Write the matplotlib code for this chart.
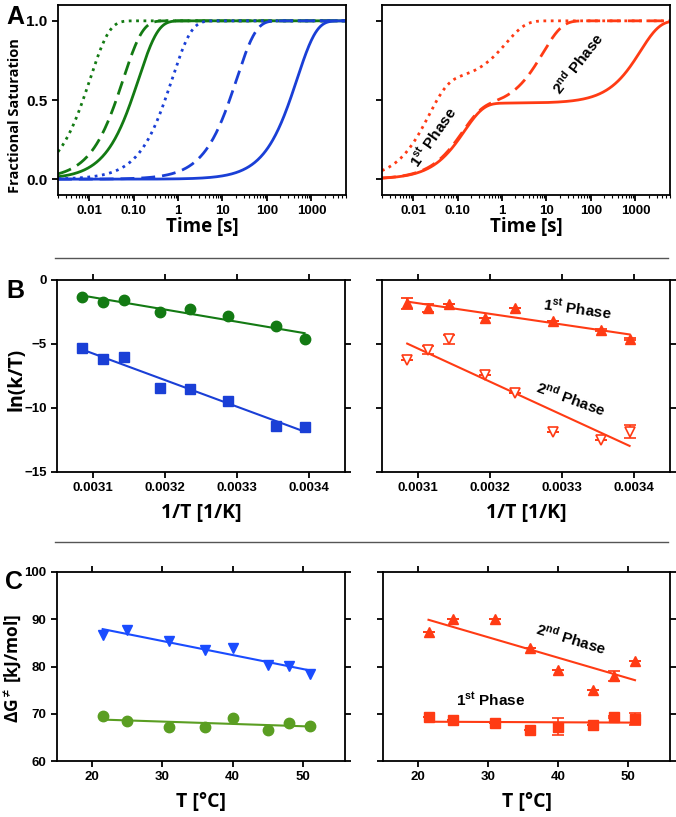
import numpy as np
import matplotlib.pyplot as plt
from matplotlib.lines import Line2D

plt.rcParams['font.family'] = ['Liberation Sans', 'DejaVu Sans']
plt.rcParams['font.weight'] = 'bold'
plt.rcParams['mathtext.fontset'] = 'custom'
plt.rcParams['mathtext.rm'] = 'Liberation Sans:bold'
plt.rcParams['mathtext.bf'] = 'Liberation Sans:bold'
plt.rcParams['mathtext.it'] = 'Liberation Sans:bold'

green = '#137a13'
blue = '#1a3fd6'
red = '#ff3b14'
green_c = '#5a9e22'
blue_c = '#1a4cff'

# ---- panel A: rate constants (1/s), order dotted, dashed, solid
rates_green = [95, 17, 7.7]
rates_blue = [1.36, 0.048, 0.0021]
# biphasic curves: amplitude of 1st phase, k1, k2
amp1_red = [0.62, 0.45, 0.48]
k1_red = [45, 8, 7]
k2_red = [0.8, 0.12, 7.7e-4]
styles = [':', (0, (5, 2.5)), '-']

# ---- panels B and C: temperatures in degC
temps = np.array([21.5, 25, 31, 36, 40, 45, 48, 51])

ln_kT_green = [-4.64, -3.59, -2.79, -2.27, -2.53, -1.56, -1.74, -1.30]
ln_kT_blue = [-11.46, -11.43, -9.43, -8.52, -8.46, -6.04, -6.20, -5.29]

ln_kT_1st = [-4.61, -3.91, -3.20, -2.21, -3.00, -1.90, -2.21, -1.82]
ln_kT_1st_err = [0.1, 0.1, 0, 0, 0, 0, 0.3, 0.45]
ln_kT_2nd = [-11.85, -12.5, -11.9, -8.85, -7.42, -4.64, -5.47, -6.25]
ln_kT_2nd_err = [0.5, 0, 0, 0, 0, 0.35, 0.3, 0]

dG_blue = [86.6, 87.7, 85.4, 83.5, 83.9, 80.4, 80.1, 78.5]
dG_green = [69.6, 68.5, 67.3, 67.3, 69.0, 66.6, 68.1, 67.5]
dG_2nd = [87.4, 90.0, 90.0, 83.9, 79.2, 75.1, 78.0, 81.1]
dG_2nd_err = [0, 0, 0, 0, 0, 0, 1.0, 0]
dG_1st = [69.3, 68.6, 68.1, 66.6, 67.3, 67.6, 69.3, 68.9]
dG_1st_err = [0, 0, 0, 0, 1.7, 0, 0.3, 1.2]

inv_T = 1.0 / (temps + 273.15)

fig = plt.figure(figsize=(6.76, 8.17), dpi=100)

W = 288 / 676
axA1 = fig.add_axes([58 / 676, 1 - 195 / 817, W, 190 / 817])
axA2 = fig.add_axes([382 / 676, 1 - 195 / 817, W, 190 / 817])
axB1 = fig.add_axes([57 / 676, 1 - 472 / 817, W, 192 / 817])
axB2 = fig.add_axes([382 / 676, 1 - 472 / 817, W, 192 / 817])
axC1 = fig.add_axes([57 / 676, 1 - 761 / 817, W, 189 / 817])
axC2 = fig.add_axes([383 / 676, 1 - 761 / 817, W - 1 / 676, 189 / 817])

tick_font = 9.5
sans2 = ['Open Sans', 'DejaVu Sans']
label_font = dict(family=sans2, fontweight='bold', fontsize=14)


def style_axis(ax, left_labels=True, mirror=True):
    for s in ax.spines.values():
        s.set_linewidth(1.3)
    ax.tick_params(which='major', direction='out', length=4, width=1.3, labelsize=tick_font)
    if mirror:
        ax.tick_params(top=True, right=True, which='major')
    if not left_labels:
        ax.tick_params(labelleft=False)
    for lab in ax.get_xticklabels() + ax.get_yticklabels():
        lab.set_fontweight('bold')


# ---- A
t = np.logspace(np.log10(0.002), np.log10(6000), 500)
for k, ls in zip(rates_green, styles):
    axA1.plot(t, 1 - np.exp(-k * t), color=green, lw=2, ls=ls)
for k, ls in zip(rates_blue, styles):
    axA1.plot(t, 1 - np.exp(-k * t), color=blue, lw=2, ls=ls)
for a, k1, k2, ls in zip(amp1_red, k1_red, k2_red, styles):
    y = a * (1 - np.exp(-k1 * t)) + (1 - a) * (1 - np.exp(-k2 * t))
    axA2.plot(t, y, color=red, lw=2, ls=ls)

for ax in [axA1, axA2]:
    ax.set_xscale('log')
    ax.set_xlim(0.002, 6000)
    ax.set_ylim(-0.1, 1.1)
    ax.set_xticks([0.01, 0.1, 1, 10, 100, 1000])
    ax.set_xticklabels(['0.01', '0.10', '1', '10', '100', '1000'])
    ax.set_yticks([0, 0.5, 1.0])
    ax.set_yticklabels(['0.0', '0.5', '1.0'])
    style_axis(ax, left_labels=(ax is axA1), mirror=False)
    ax.tick_params(which='minor', direction='out', length=2, width=0.8)
    ax.tick_params(axis='y', labelsize=11)
    ax.set_xlabel('Time [s]', labelpad=0, family=sans2, fontweight='bold', fontsize=13.5)
axA1.set_ylabel('Fractional Saturation', family=sans2, fontweight='bold', fontsize=10.5)
axA1.yaxis.set_label_coords(-0.125, 0.42)

axA2.text(0.028, 0.27, r'1$^{\mathbf{st}}$ Phase', rotation=55, fontsize=11,
          fontweight='bold', ha='center', va='center')
axA2.text(52, 0.73, r'2$^{\mathbf{nd}}$ Phase', rotation=52, fontsize=11,
          fontweight='bold', ha='center', va='center')


# ---- B
def fit_line(ax, x, y, color):
    p = np.polyfit(x, y, 1)
    xs = np.array([x.min(), x.max()])
    ax.plot(xs, np.polyval(p, xs), color=color, lw=1.5, zorder=1)


axB1.plot(inv_T, ln_kT_green, 'o', color=green, ms=7.5, zorder=3)
fit_line(axB1, inv_T, np.array(ln_kT_green), green)
axB1.plot(inv_T, ln_kT_blue, 's', color=blue, ms=7.5, zorder=3)
fit_line(axB1, inv_T, np.array(ln_kT_blue), blue)

axB2.errorbar(inv_T, ln_kT_1st, yerr=ln_kT_1st_err, fmt='^', color=red, ms=7.5,
              capsize=4, elinewidth=1.3, capthick=1.3, zorder=3)
fit_line(axB2, inv_T, np.array(ln_kT_1st), red)
axB2.errorbar(inv_T, ln_kT_2nd, yerr=ln_kT_2nd_err, fmt='v', color=red, mfc='white',
              mec=red, mew=1.2, ms=7, capsize=4, elinewidth=1.3, capthick=1.3, zorder=3)
fit_line(axB2, inv_T, np.array(ln_kT_2nd), red)

for ax in [axB1, axB2]:
    ax.set_xlim(0.00305, 0.00345)
    ax.set_ylim(-15, 0)
    ax.set_xticks([0.0031, 0.0032, 0.0033, 0.0034])
    ax.set_xticklabels(['0.0031', '0.0032', '0.0033', '0.0034'])
    ax.set_yticks([0, -5, -10, -15])
    style_axis(ax, left_labels=(ax is axB1))
    ax.set_xlabel('1/T [1/K]', labelpad=6, **label_font)
axB1.set_ylabel('ln(k/T)', **label_font)
axB1.yaxis.set_label_coords(-0.105, 0.48)

axB2.text(0.003322, -2.27, r'1$^{\mathbf{st}}$ Phase', rotation=-8, fontsize=11,
          fontweight='bold', ha='center', va='center')
axB2.text(0.003312, -9.3, r'2$^{\mathbf{nd}}$ Phase', rotation=-20, fontsize=11,
          fontweight='bold', ha='center', va='center')

# ---- C
axC1.plot(temps, dG_blue, 'v', color=blue_c, ms=7.5, zorder=3)
fit_line(axC1, temps, np.array(dG_blue), blue_c)
axC1.plot(temps, dG_green, 'o', color=green_c, ms=7.5, zorder=3)
fit_line(axC1, temps, np.array(dG_green), green_c)

axC2.errorbar(temps, dG_2nd, yerr=dG_2nd_err, fmt='^', color=red, ms=7.5,
              capsize=4, elinewidth=1.2, capthick=1.2, zorder=3)
fit_line(axC2, temps, np.array(dG_2nd), red)
axC2.errorbar(temps, dG_1st, yerr=dG_1st_err, fmt='s', color=red, ms=7,
              capsize=4, elinewidth=1.2, capthick=1.2, zorder=3)
fit_line(axC2, temps, np.array(dG_1st), red)

for ax in [axC1, axC2]:
    ax.set_xlim(15, 56)
    ax.set_ylim(60, 100)
    ax.set_xticks([20, 30, 40, 50])
    ax.set_yticks([60, 70, 80, 90, 100])
    style_axis(ax, left_labels=(ax is axC1))
    ax.set_xlabel('T [°C]', labelpad=6, **label_font)
axC1.set_ylabel(r'ΔG$^{\neq}$ [kJ/mol]', family=sans2, fontweight='bold', fontsize=12.5)
axC1.yaxis.set_label_coords(-0.118, 0.49)

axC2.text(41.9, 85.9, r'2$^{\mathbf{nd}}$ Phase', rotation=-17, fontsize=11,
          fontweight='bold', ha='center', va='center')
axC2.text(30.4, 73.0, r'1$^{\mathbf{st}}$ Phase', fontsize=11,
          fontweight='bold', ha='center', va='center')

# separators and panel letters
for yy in [258, 542]:
    fig.add_artist(Line2D([55 / 676, 668 / 676], [1 - yy / 817] * 2,
                          color='#555555', lw=1))
fig.text(0.010, 0.994, 'A', fontsize=18, fontweight='bold', va='top')
fig.text(0.010, 0.658, 'B', fontsize=18, fontweight='bold', va='top')
fig.text(0.008, 0.302, 'C', fontsize=18, fontweight='bold', va='top')

fig.savefig('out.png', dpi=100)
